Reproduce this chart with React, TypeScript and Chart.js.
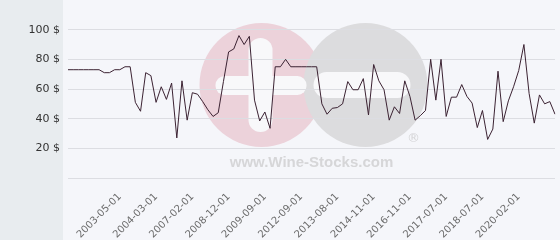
import React, { useEffect, useRef } from "react";
import { Chart, registerables } from "chart.js";

Chart.register(...registerables);

// Prices ($), one per point in time
const values: number[] = [
  73, 73, 73, 73, 73, 73, 73, 71, 71, 73, 73, 75, 75,
  51, 45, 71, 69, 51, 61.5, 53, 64, 27, 65.5,
  39, 57.5, 56.5, 51.5, 46, 41.5, 44, 65, 85, 87, 96, 90, 95.5, 52.5, 38.5, 44.5, 33.5, 75, 75, 80, 75,
  75, 75, 75, 75, 75,
  50, 43, 47, 47.5, 50, 65, 59.5, 59.5, 67, 42.5, 76.5, 65.5, 59.5, 39, 48, 43.5, 65.5, 55, 39, 42, 45.5,
  80, 52.5, 80, 41.5, 54.5, 54.5, 63, 55, 50.5, 34, 45.5, 26, 33, 72, 38, 52, 61.5, 72.5, 90, 57, 37, 56, 50, 51.5, 43,
];

// Dates shown on the x axis and the point index each belongs to
const tickLabels: string[] = [
  "2003-05-01", "2004-03-01", "2007-02-01", "2008-12-01", "2009-09-01", "2012-09-01",
  "2013-08-01", "2014-11-01", "2016-11-01", "2017-07-01", "2018-07-01", "2020-02-01",
];
const tickIndices: number[] = [10, 17, 24, 31, 38, 45, 52, 59, 66, 73, 80, 87];

const yTicks: number[] = [0, 20, 40, 60, 80, 100, 120];

const categories: string[] = values.map((_, i) => {
  const k = tickIndices.indexOf(i);
  return k >= 0 ? tickLabels[k] : "";
});

function roundRect(ctx: CanvasRenderingContext2D, x: number, y: number, w: number, h: number, r: number) {
  ctx.beginPath();
  ctx.moveTo(x + r, y);
  ctx.lineTo(x + w - r, y);
  ctx.arc(x + w - r, y + r, r, -Math.PI / 2, 0);
  ctx.lineTo(x + w, y + h - r);
  ctx.arc(x + w - r, y + h - r, r, 0, Math.PI / 2);
  ctx.lineTo(x + r, y + h);
  ctx.arc(x + r, y + h - r, r, Math.PI / 2, Math.PI);
  ctx.lineTo(x, y + r);
  ctx.arc(x + r, y + r, r, Math.PI, Math.PI * 1.5);
  ctx.closePath();
  ctx.fill();
}

const backgroundPlugin = {
  id: "bgWatermark",
  beforeDraw(chart: any) {
    const { ctx, width, height, chartArea } = chart;
    ctx.save();
    ctx.fillStyle = "#f5f6fa";
    ctx.fillRect(0, 0, width, height);
    ctx.fillStyle = "#e8ecef";
    ctx.fillRect(0, 0, chartArea.left - 5, height);

    const cx = (chartArea.left + chartArea.right) / 2;
    const cy = chartArea.top + 85;
    // logo watermark
    ctx.fillStyle = "#ecd2da";
    ctx.beginPath();
    ctx.arc(cx - 50, cy, 62, 0, Math.PI * 2);
    ctx.fill();
    ctx.fillStyle = "#dcdcde";
    ctx.beginPath();
    ctx.arc(cx + 54, cy, 62, 0, Math.PI * 2);
    ctx.fill();
    ctx.fillStyle = "#f8f8fa";
    roundRect(ctx, cx - 96, cy - 9, 91, 19, 9);
    roundRect(ctx, cx - 63, cy - 47, 24, 94, 12);
    roundRect(ctx, cx + 2, cy - 13, 97, 26, 13);

    ctx.fillStyle = "#d4d4d6";
    ctx.font = "13px 'DejaVu Sans'";
    ctx.textAlign = "center";
    ctx.textBaseline = "middle";
    ctx.fillText("®", cx + 102, cy + 54);

    ctx.fillStyle = "#d6d6d8";
    ctx.font = "bold 15px 'Liberation Sans'";
    ctx.textBaseline = "alphabetic";
    ctx.fillText("www.Wine-Stocks.com", cx, cy + 82);
    ctx.restore();
  },
};

export default function App() {
  const canvasRef = useRef<HTMLCanvasElement | null>(null);

  useEffect(() => {
    document.body.style.margin = "0";
    const canvas = canvasRef.current;
    if (!canvas) return;
    const chart = new Chart(canvas, {
      type: "line",
      data: {
        labels: categories,
        datasets: [
          {
            data: values,
            borderColor: "#3b2232",
            borderWidth: 1,
            pointRadius: 0,
            tension: 0,
            fill: false,
          },
        ],
      },
      options: {
        responsive: false,
        animation: false,
        devicePixelRatio: 1,
        layout: { padding: { left: 0, right: 5, top: 0, bottom: 0 } },
        plugins: { legend: { display: false }, tooltip: { enabled: false } },
        scales: {
          x: {
            type: "category",
            offset: false,
            grid: { display: false, drawTicks: false },
            border: { display: false },
            afterFit: (s: any) => {
              s.height = 62;
              s.paddingLeft = 0;
              s.paddingRight = 0;
            },
            ticks: {
              autoSkip: false,
              minRotation: 45,
              maxRotation: 45,
              padding: 13,
              color: "#6b6b6b",
              font: { family: "'DejaVu Sans'", size: 10 },
            },
          },
          y: {
            min: 0,
            max: 120,
            afterFit: (s: any) => {
              s.width = 68;
              s.paddingTop = 0;
              s.paddingBottom = 0;
            },
            afterBuildTicks: (s: any) => {
              s.ticks = yTicks.map((v) => ({ value: v }));
            },
            border: { display: false },
            grid: {
              drawTicks: false,
              color: (c: any) => (c.tick && c.tick.value === 120 ? "rgba(0,0,0,0)" : "#dcdde2"),
              lineWidth: 1,
            },
            ticks: {
              padding: 8,
              color: "#333333",
              font: { family: "'DejaVu Sans'", size: 11 },
              callback: (v: any) => (v === 0 || v === 120 ? "" : `${v} $`),
            },
          },
        },
      },
      plugins: [backgroundPlugin],
    });
    return () => chart.destroy();
  }, []);

  return (
    <div style={{ width: 560, height: 240 }}>
      <canvas ref={canvasRef} width={560} height={240} />
    </div>
  );
}
